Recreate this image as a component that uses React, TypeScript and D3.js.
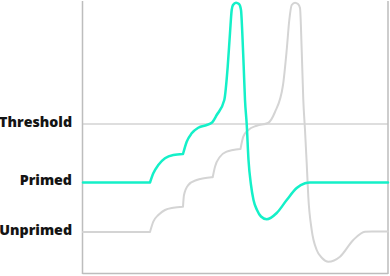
import React from "react";
import * as d3 from "d3";

// time (ms) and membrane potential (mV) readings
const levelLabels = ["Threshold", "Primed", "Unprimed"];
const levelValues = [-15, -44.25, -69];

const primedBaseline: [number, number][] = [[0, -44.25], [6.7, -44.25]];
const primedStep1: [number, number][] = [
  [6.7, -44.25], [7.03, -39.65], [7.53, -35.5], [8.2, -32.15], [9.03, -30.5], [9.97, -30],
];
const primedStep2AndSpike: [number, number][] = [
  [10.0, -30], [10.37, -23.85], [10.87, -19.65], [11.53, -16.85], [12.37, -15.5], [12.87, -14.4],
  [13.37, -10.5], [14.13, -3], [14.47, 13.65], [14.7, 30.5],
  [14.87, 42], [15.0, 44.5], [15.3, 45.65], [15.6, 45], [15.8, 42], [15.93, 30.5],
  [16.07, 13.65], [16.2, -3], [16.37, -15], [16.55, -33], [16.8, -45.5], [17.05, -53],
  [17.4, -58], [17.8, -61.25], [18.37, -62.65], [19.37, -59.5], [20.37, -53], [21.37, -47],
  [22.2, -44.65], [22.7, -44.25], [30.5, -44.25],
];

const unprimedBaseline: [number, number][] = [[0, -69], [6.7, -69]];
const unprimedStep1: [number, number][] = [
  [6.7, -69], [7.03, -63.85], [7.53, -60.5], [8.2, -58], [9.03, -56.85], [9.97, -56.35],
];
const unprimedStep2: [number, number][] = [
  [10.0, -56.35], [10.1, -50.5], [10.53, -45.5], [11.37, -43], [12.1, -42.15], [12.87, -41.65],
];
const unprimedStep3: [number, number][] = [
  [12.97, -41.65], [13.2, -36.35], [13.7, -31.35], [14.37, -28.85], [15.0, -28], [15.7, -27.5],
];
const unprimedStep4AndSpike: [number, number][] = [
  [15.75, -27.5], [16.03, -21.35], [16.53, -18], [17.37, -15.85], [18.5, -14.5],
  [19.2, -9], [20.0, 4.5], [20.37, 22], [20.63, 37], [20.87, 44.5],
  [21.2, 45.65], [21.5, 45], [21.7, 43], [21.87, 22], [22.03, -3], [22.2, -18],
  [22.37, -34.5], [22.53, -51.35], [22.87, -68], [23.37, -78], [23.9, -82], [24.53, -83.85],
  [25.7, -81.35], [27.03, -73], [28.2, -68.85], [28.9, -68.75], [30.5, -68.75],
];

const primedSegments = [primedBaseline, primedStep1, primedStep2AndSpike];
const unprimedSegments = [unprimedBaseline, unprimedStep1, unprimedStep2, unprimedStep3, unprimedStep4AndSpike];

const W = 390;
const H = 276;
const plot = { left: 83, right: 388, top: 0, bottom: 274 };

export default function App() {
  const x = d3.scaleLinear().domain([0, 30.5]).range([plot.left, plot.right]);
  const y = d3.scaleLinear().domain([-90, 47]).range([plot.bottom, plot.top]);
  const line = d3
    .line<[number, number]>()
    .x((d) => x(d[0]))
    .y((d) => y(d[1]))
    .curve(d3.curveMonotoneX);
  const pathOf = (segs: [number, number][][]) => segs.map((s) => line(s) as string).join("");

  const threshold = levelValues[0];

  return (
    <svg
      width={W}
      height={H}
      style={{ position: "absolute", left: 0, top: 0, display: "block", background: "#fff" }}
    >
      <line x1={plot.left - 0.5} x2={plot.left - 0.5} y1={1} y2={plot.bottom} stroke="#bdbdbd" strokeWidth={1.5} />
      <line x1={plot.right} x2={plot.right} y1={1} y2={plot.bottom} stroke="#bdbdbd" strokeWidth={1.5} />
      <line x1={plot.left - 0.5} x2={plot.right} y1={plot.bottom - 0.5} y2={plot.bottom - 0.5} stroke="#bdbdbd" strokeWidth={1.5} />
      <line x1={plot.left} x2={plot.right} y1={y(threshold)} y2={y(threshold)} stroke="#bdbdbd" strokeWidth={1.2} />

      <path d={pathOf(unprimedSegments)} fill="none" stroke="#d4d4d4" strokeWidth={2} strokeLinecap="round" strokeLinejoin="round" />
      <path d={pathOf(primedSegments)} fill="none" stroke="#14f0c8" strokeWidth={2.5} strokeLinecap="round" strokeLinejoin="round" />

      {levelLabels.map((lab, i) => (
        <text
          key={lab}
          x={72}
          y={y(levelValues[i]) - 1}
          textAnchor="end"
          dominantBaseline="middle"
          fontFamily="'Open Sans', sans-serif"
          fontWeight={800}
          fontSize={14.2}
          fill="#141414"
        >
          {lab}
        </text>
      ))}
    </svg>
  );
}
